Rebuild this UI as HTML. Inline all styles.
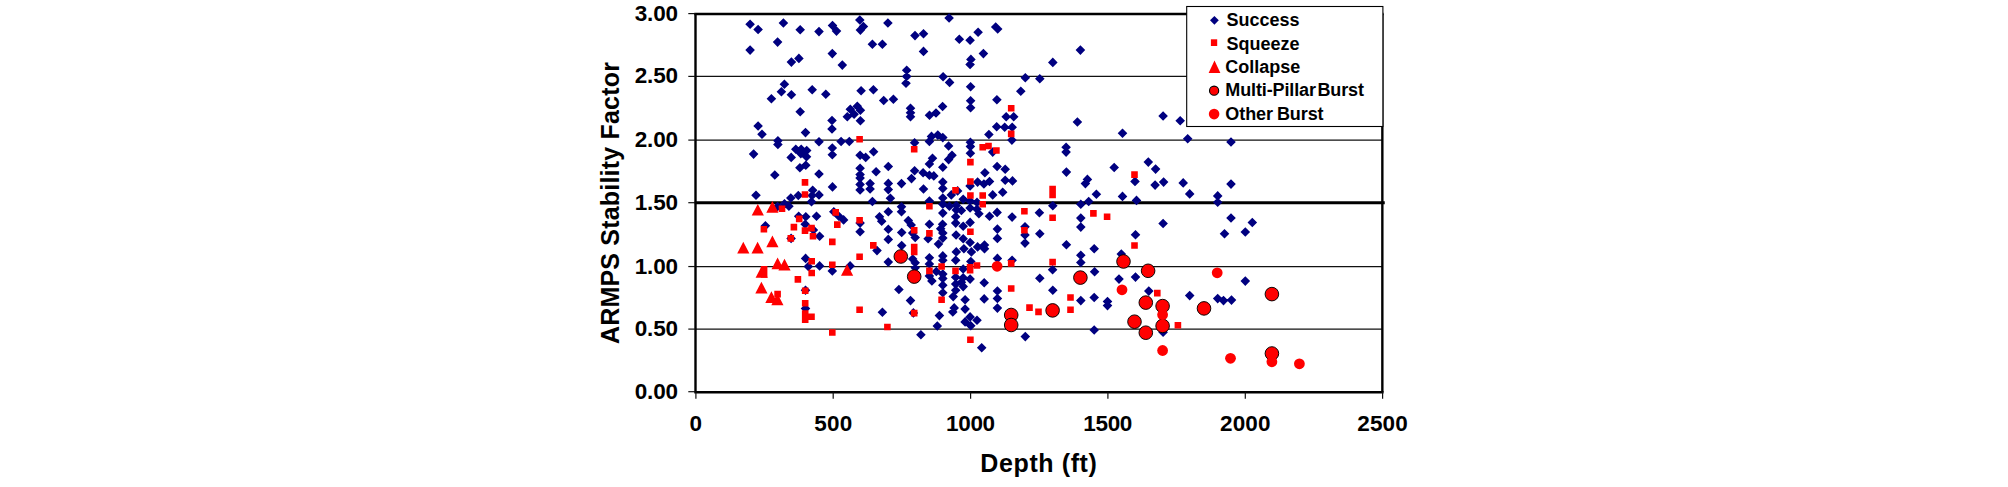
<!DOCTYPE html>
<html><head><meta charset="utf-8"><title>ARMPS Stability Factor vs Depth</title>
<style>
html,body{margin:0;padding:0;background:#fff;}
body{width:2008px;height:487px;overflow:hidden;}
svg{display:block;}
text{font-family:"Liberation Sans",Arial,sans-serif;font-weight:bold;fill:#000;}
.tick{font-size:22.5px;}
.leg{font-size:18px;}
.ttl{font-size:25px;}
</style></head><body>
<svg width="2008" height="487" viewBox="0 0 2008 487">
<rect x="0" y="0" width="2008" height="487" fill="#fff"/>
<g stroke="#111" stroke-width="1.15">
<line x1="695.5" y1="329.1" x2="1382.35" y2="329.1"/>
<line x1="695.5" y1="266.55" x2="1382.35" y2="266.55"/>
<line x1="695.5" y1="140.1" x2="1382.35" y2="140.1"/>
<line x1="695.5" y1="76.4" x2="1382.35" y2="76.4"/>
</g>
<g stroke="#000" stroke-width="2.4" fill="none">
<line x1="694.3" y1="14.0" x2="1383.55" y2="14.0"/>
<line x1="1382.35" y1="14.0" x2="1382.35" y2="392.25"/>
<line x1="695.5" y1="14.0" x2="695.5" y2="392.25"/>
<line x1="694.3" y1="392.25" x2="1383.55" y2="392.25"/>
</g>
<g stroke="#111" stroke-width="1.2">
<line x1="688.3" y1="391.7" x2="695.5" y2="391.7"/>
<line x1="688.3" y1="329.1" x2="695.5" y2="329.1"/>
<line x1="688.3" y1="266.55" x2="695.5" y2="266.55"/>
<line x1="688.3" y1="202.7" x2="695.5" y2="202.7"/>
<line x1="688.3" y1="140.1" x2="695.5" y2="140.1"/>
<line x1="688.3" y1="76.4" x2="695.5" y2="76.4"/>
<line x1="688.3" y1="13.6" x2="695.5" y2="13.6"/>
<line x1="695.9" y1="392.25" x2="695.9" y2="398.8"/>
<line x1="833.2" y1="392.25" x2="833.2" y2="398.8"/>
<line x1="970.6" y1="392.25" x2="970.6" y2="398.8"/>
<line x1="1107.9" y1="392.25" x2="1107.9" y2="398.8"/>
<line x1="1245.3" y1="392.25" x2="1245.3" y2="398.8"/>
<line x1="1382.6" y1="392.25" x2="1382.6" y2="398.8"/>
</g>
<line x1="694.7" y1="202.7" x2="1384.75" y2="202.7" stroke="#000" stroke-width="3.1"/>
<path d="M750.1 19.5L754.9 24.3L750.1 29.1L745.3 24.3ZM758.1 24.7L762.9 29.5L758.1 34.3L753.3 29.5ZM783.4 18.2L788.2 23.0L783.4 27.8L778.6 23.0ZM800.2 25.0L805.0 29.8L800.2 34.6L795.4 29.8ZM819.0 26.8L823.8 31.6L819.0 36.4L814.2 31.6ZM832.5 20.7L837.3 25.5L832.5 30.3L827.7 25.5ZM836.5 26.3L841.3 31.1L836.5 35.9L831.7 31.1ZM859.8 15.2L864.6 20.0L859.8 24.8L855.0 20.0ZM863.4 21.7L868.2 26.5L863.4 31.3L858.6 26.5ZM860.4 25.3L865.2 30.1L860.4 34.9L855.6 30.1ZM887.9 18.2L892.7 23.0L887.9 27.8L883.1 23.0ZM915.0 30.8L919.8 35.6L915.0 40.4L910.2 35.6ZM777.6 37.3L782.4 42.1L777.6 46.9L772.8 42.1ZM750.1 45.3L754.9 50.1L750.1 54.9L745.3 50.1ZM872.4 39.5L877.2 44.3L872.4 49.1L867.6 44.3ZM882.4 39.5L887.2 44.3L882.4 49.1L877.6 44.3ZM832.3 48.8L837.1 53.6L832.3 58.4L827.5 53.6ZM798.9 53.6L803.7 58.4L798.9 63.2L794.1 58.4ZM791.4 57.3L796.2 62.1L791.4 66.9L786.6 62.1ZM842.3 60.3L847.1 65.1L842.3 69.9L837.5 65.1ZM906.7 65.4L911.5 70.2L906.7 75.0L901.9 70.2ZM906.7 71.6L911.5 76.4L906.7 81.2L901.9 76.4ZM906.0 78.4L910.8 83.2L906.0 88.0L901.2 83.2ZM784.4 79.4L789.2 84.2L784.4 89.0L779.6 84.2ZM781.4 86.9L786.2 91.7L781.4 96.5L776.6 91.7ZM791.4 89.9L796.2 94.7L791.4 99.5L786.6 94.7ZM771.4 93.9L776.2 98.7L771.4 103.5L766.6 98.7ZM812.2 84.9L817.0 89.7L812.2 94.5L807.4 89.7ZM825.8 89.4L830.6 94.2L825.8 99.0L821.0 94.2ZM861.1 85.9L865.9 90.7L861.1 95.5L856.3 90.7ZM873.4 84.9L878.2 89.7L873.4 94.5L868.6 89.7ZM883.7 95.7L888.5 100.5L883.7 105.3L878.9 100.5ZM893.4 94.4L898.2 99.2L893.4 104.0L888.6 99.2ZM800.2 107.0L805.0 111.8L800.2 116.6L795.4 111.8ZM850.3 104.4L855.1 109.2L850.3 114.0L845.5 109.2ZM857.3 101.4L862.1 106.2L857.3 111.0L852.5 106.2ZM860.4 105.5L865.2 110.3L860.4 115.1L855.6 110.3ZM847.3 112.0L852.1 116.8L847.3 121.6L842.5 116.8ZM854.1 109.5L858.9 114.3L854.1 119.1L849.3 114.3ZM860.4 116.0L865.2 120.8L860.4 125.6L855.6 120.8ZM832.0 115.7L836.8 120.5L832.0 125.3L827.2 120.5ZM832.0 124.2L836.8 129.0L832.0 133.8L827.2 129.0ZM910.5 103.4L915.3 108.2L910.5 113.0L905.7 108.2ZM910.5 108.0L915.3 112.8L910.5 117.6L905.7 112.8ZM910.5 112.0L915.3 116.8L910.5 121.6L905.7 116.8ZM758.1 121.2L762.9 126.0L758.1 130.8L753.3 126.0ZM949.1 13.2L953.9 18.0L949.1 22.8L944.3 18.0ZM923.5 29.0L928.3 33.8L923.5 38.6L918.7 33.8ZM923.5 46.6L928.3 51.4L923.5 56.2L918.7 51.4ZM959.3 34.5L964.1 39.3L959.3 44.1L954.5 39.3ZM970.1 35.5L974.9 40.3L970.1 45.1L965.3 40.3ZM978.1 27.5L982.9 32.3L978.1 37.1L973.3 32.3ZM995.7 22.2L1000.5 27.0L995.7 31.8L990.9 27.0ZM997.7 24.2L1002.5 29.0L997.7 33.8L992.9 29.0ZM983.4 48.8L988.2 53.6L983.4 58.4L978.6 53.6ZM970.9 54.6L975.7 59.4L970.9 64.2L966.1 59.4ZM970.1 59.6L974.9 64.4L970.1 69.2L965.3 64.4ZM1080.4 45.3L1085.2 50.1L1080.4 54.9L1075.6 50.1ZM1052.8 57.6L1057.6 62.4L1052.8 67.2L1048.0 62.4ZM943.1 71.9L947.9 76.7L943.1 81.5L938.3 76.7ZM949.6 77.6L954.4 82.4L949.6 87.2L944.8 82.4ZM970.6 81.9L975.4 86.7L970.6 91.5L965.8 86.7ZM1025.3 72.9L1030.1 77.7L1025.3 82.5L1020.5 77.7ZM1039.8 73.9L1044.6 78.7L1039.8 83.5L1035.0 78.7ZM1020.8 86.4L1025.6 91.2L1020.8 96.0L1016.0 91.2ZM996.9 94.9L1001.7 99.7L996.9 104.5L992.1 99.7ZM970.6 95.9L975.4 100.7L970.6 105.5L965.8 100.7ZM970.6 102.9L975.4 107.7L970.6 112.5L965.8 107.7ZM942.6 101.7L947.4 106.5L942.6 111.3L937.8 106.5ZM936.0 108.2L940.8 113.0L936.0 117.8L931.2 113.0ZM929.5 110.5L934.3 115.3L929.5 120.1L924.7 115.3ZM1006.2 112.0L1011.0 116.8L1006.2 121.6L1001.4 116.8ZM1013.7 112.0L1018.5 116.8L1013.7 121.6L1008.9 116.8ZM996.7 122.0L1001.5 126.8L996.7 131.6L991.9 126.8ZM1004.7 122.5L1009.5 127.3L1004.7 132.1L999.9 127.3ZM1012.2 122.5L1017.0 127.3L1012.2 132.1L1007.4 127.3ZM1077.4 117.2L1082.2 122.0L1077.4 126.8L1072.6 122.0ZM1163.1 111.2L1167.9 116.0L1163.1 120.8L1158.3 116.0ZM1180.2 116.0L1185.0 120.8L1180.2 125.6L1175.4 120.8ZM762.0 129.5L766.8 134.3L762.0 139.1L757.2 134.3ZM777.9 136.0L782.7 140.8L777.9 145.6L773.1 140.8ZM777.9 139.7L782.7 144.5L777.9 149.3L773.1 144.5ZM753.6 149.3L758.4 154.1L753.6 158.9L748.8 154.1ZM795.8 144.5L800.6 149.3L795.8 154.1L791.0 149.3ZM801.2 144.5L806.0 149.3L801.2 154.1L796.4 149.3ZM806.7 145.7L811.5 150.5L806.7 155.3L801.9 150.5ZM800.8 148.8L805.6 153.6L800.8 158.4L796.0 153.6ZM806.5 152.0L811.3 156.8L806.5 161.6L801.7 156.8ZM791.2 152.6L796.0 157.4L791.2 162.2L786.4 157.4ZM805.8 160.4L810.6 165.2L805.8 170.0L801.0 165.2ZM799.9 162.9L804.7 167.7L799.9 172.5L795.1 167.7ZM774.8 170.2L779.6 175.0L774.8 179.8L770.0 175.0ZM819.0 137.0L823.8 141.8L819.0 146.6L814.2 141.8ZM819.0 169.2L823.8 174.0L819.0 178.8L814.2 174.0ZM805.5 127.8L810.3 132.6L805.5 137.4L800.7 132.6ZM812.7 185.5L817.5 190.3L812.7 195.1L807.9 190.3ZM841.1 136.7L845.9 141.5L841.1 146.3L836.3 141.5ZM849.3 136.7L854.1 141.5L849.3 146.3L844.5 141.5ZM832.3 143.2L837.1 148.0L832.3 152.8L827.5 148.0ZM832.3 150.0L837.1 154.8L832.3 159.6L827.5 154.8ZM860.1 150.4L864.9 155.2L860.1 160.0L855.3 155.2ZM865.7 152.6L870.5 157.4L865.7 162.2L860.9 157.4ZM873.6 147.0L878.4 151.8L873.6 156.6L868.8 151.8ZM914.6 137.9L919.4 142.7L914.6 147.5L909.8 142.7ZM860.1 163.5L864.9 168.3L860.1 173.1L855.3 168.3ZM860.1 169.8L864.9 174.6L860.1 179.4L855.3 174.6ZM860.1 173.3L864.9 178.1L860.1 182.9L855.3 178.1ZM860.1 179.6L864.9 184.4L860.1 189.2L855.3 184.4ZM860.1 185.1L864.9 189.9L860.1 194.7L855.3 189.9ZM888.3 161.7L893.1 166.5L888.3 171.3L883.5 166.5ZM876.1 167.0L880.9 171.8L876.1 176.6L871.3 171.8ZM914.6 166.0L919.4 170.8L914.6 175.6L909.8 170.8ZM911.5 173.8L916.3 178.6L911.5 183.4L906.7 178.6ZM870.1 178.8L874.9 183.6L870.1 188.4L865.3 183.6ZM870.1 184.2L874.9 189.0L870.1 193.8L865.3 189.0ZM888.3 178.6L893.1 183.4L888.3 188.2L883.5 183.4ZM888.3 184.8L893.1 189.6L888.3 194.4L883.5 189.6ZM901.5 178.8L906.3 183.6L901.5 188.4L896.7 183.6ZM832.5 182.1L837.3 186.9L832.5 191.7L827.7 186.9ZM931.5 131.6L936.3 136.4L931.5 141.2L926.7 136.4ZM937.8 130.3L942.6 135.1L937.8 139.9L933.0 135.1ZM942.8 132.8L947.6 137.6L942.8 142.4L938.0 137.6ZM929.4 136.6L934.2 141.4L929.4 146.2L924.6 141.4ZM948.6 141.2L953.4 146.0L948.6 150.8L943.8 146.0ZM970.4 137.5L975.2 142.3L970.4 147.1L965.6 142.3ZM970.4 141.6L975.2 146.4L970.4 151.2L965.6 146.4ZM970.4 148.5L975.2 153.3L970.4 158.1L965.6 153.3ZM952.0 150.4L956.8 155.2L952.0 160.0L947.2 155.2ZM948.6 154.8L953.4 159.6L948.6 164.4L943.8 159.6ZM932.5 153.5L937.3 158.3L932.5 163.1L927.7 158.3ZM929.4 159.2L934.2 164.0L929.4 168.8L924.6 164.0ZM942.8 162.5L947.6 167.3L942.8 172.1L938.0 167.3ZM923.1 167.9L927.9 172.7L923.1 177.5L918.3 172.7ZM929.4 170.4L934.2 175.2L929.4 180.0L924.6 175.2ZM933.8 171.1L938.6 175.9L933.8 180.7L929.0 175.9ZM942.8 177.3L947.6 182.1L942.8 186.9L938.0 182.1ZM942.8 183.6L947.6 188.4L942.8 193.2L938.0 188.4ZM923.5 184.2L928.3 189.0L923.5 193.8L918.7 189.0ZM988.9 129.7L993.7 134.5L988.9 139.3L984.1 134.5ZM1011.9 135.3L1016.7 140.1L1011.9 144.9L1007.1 140.1ZM992.7 147.3L997.5 152.1L992.7 156.9L987.9 152.1ZM997.1 161.7L1001.9 166.5L997.1 171.3L992.3 166.5ZM1005.2 164.5L1010.0 169.3L1005.2 174.1L1000.4 169.3ZM984.9 167.9L989.7 172.7L984.9 177.5L980.1 172.7ZM977.6 177.3L982.4 182.1L977.6 186.9L972.8 182.1ZM983.9 179.2L988.7 184.0L983.9 188.8L979.1 184.0ZM989.5 176.7L994.3 181.5L989.5 186.3L984.7 181.5ZM970.1 181.1L974.9 185.9L970.1 190.7L965.3 185.9ZM1005.2 175.4L1010.0 180.2L1005.2 185.0L1000.4 180.2ZM1012.5 176.1L1017.3 180.9L1012.5 185.7L1007.7 180.9ZM1002.7 187.4L1007.5 192.2L1002.7 197.0L997.9 192.2ZM957.6 186.1L962.4 190.9L957.6 195.7L952.8 190.9ZM1066.1 142.5L1070.9 147.3L1066.1 152.1L1061.3 147.3ZM1066.1 147.3L1070.9 152.1L1066.1 156.9L1061.3 152.1ZM1066.4 167.3L1071.2 172.1L1066.4 176.9L1061.6 172.1ZM1114.2 162.7L1119.0 167.5L1114.2 172.3L1109.4 167.5ZM1087.4 174.6L1092.2 179.4L1087.4 184.2L1082.6 179.4ZM1085.4 178.8L1090.2 183.6L1085.4 188.4L1080.6 183.6ZM1122.5 128.5L1127.3 133.3L1122.5 138.1L1117.7 133.3ZM1187.7 134.0L1192.5 138.8L1187.7 143.6L1182.9 138.8ZM1231.0 137.2L1235.8 142.0L1231.0 146.8L1226.2 142.0ZM1148.3 157.3L1153.1 162.1L1148.3 166.9L1143.5 162.1ZM1155.6 164.3L1160.4 169.1L1155.6 173.9L1150.8 169.1ZM1135.0 176.6L1139.8 181.4L1135.0 186.2L1130.2 181.4ZM1155.1 180.3L1159.9 185.1L1155.1 189.9L1150.3 185.1ZM1163.6 177.3L1168.4 182.1L1163.6 186.9L1158.8 182.1ZM1183.2 178.1L1188.0 182.9L1183.2 187.7L1178.4 182.9ZM1231.0 179.3L1235.8 184.1L1231.0 188.9L1226.2 184.1ZM1189.7 189.1L1194.5 193.9L1189.7 198.7L1184.9 193.9ZM1122.5 191.6L1127.3 196.4L1122.5 201.2L1117.7 196.4ZM1217.7 191.1L1222.5 195.9L1217.7 200.7L1212.9 195.9ZM1217.7 197.4L1222.5 202.2L1217.7 207.0L1212.9 202.2ZM1136.5 195.6L1141.3 200.4L1136.5 205.2L1131.7 200.4ZM1163.1 218.7L1167.9 223.5L1163.1 228.3L1158.3 223.5ZM1231.0 213.2L1235.8 218.0L1231.0 222.8L1226.2 218.0ZM1252.3 217.7L1257.1 222.5L1252.3 227.3L1247.5 222.5ZM1245.3 227.2L1250.1 232.0L1245.3 236.8L1240.5 232.0ZM1224.5 229.0L1229.3 233.8L1224.5 238.6L1219.7 233.8ZM1135.5 230.0L1140.3 234.8L1135.5 239.6L1130.7 234.8ZM1121.3 249.3L1126.1 254.1L1121.3 258.9L1116.5 254.1ZM756.0 190.5L760.8 195.3L756.0 200.1L751.2 195.3ZM790.8 193.2L795.6 198.0L790.8 202.8L786.0 198.0ZM798.3 190.7L803.1 195.5L798.3 200.3L793.5 195.5ZM784.5 198.9L789.3 203.7L784.5 208.5L779.7 203.7ZM788.9 201.4L793.7 206.2L788.9 211.0L784.1 206.2ZM777.6 201.7L782.4 206.5L777.6 211.3L772.8 206.5ZM812.1 190.7L816.9 195.5L812.1 200.3L807.3 195.5ZM811.5 197.0L816.3 201.8L811.5 206.6L806.7 201.8ZM819.0 190.1L823.8 194.9L819.0 199.7L814.2 194.9ZM798.7 211.4L803.5 216.2L798.7 221.0L793.9 216.2ZM805.8 212.0L810.6 216.8L805.8 221.6L801.0 216.8ZM816.5 211.4L821.3 216.2L816.5 221.0L811.7 216.2ZM765.4 221.0L770.2 225.8L765.4 230.6L760.6 225.8ZM805.2 219.5L810.0 224.3L805.2 229.1L800.4 224.3ZM813.4 225.2L818.2 230.0L813.4 234.8L808.6 230.0ZM791.1 233.6L795.9 238.4L791.1 243.2L786.3 238.4ZM819.6 231.4L824.4 236.2L819.6 241.0L814.8 236.2ZM872.4 196.7L877.2 201.5L872.4 206.3L867.6 201.5ZM890.4 193.5L895.2 198.3L890.4 203.1L885.6 198.3ZM833.8 207.0L838.6 211.8L833.8 216.6L829.0 211.8ZM838.8 211.4L843.6 216.2L838.8 221.0L834.0 216.2ZM843.6 215.1L848.4 219.9L843.6 224.7L838.8 219.9ZM860.1 218.3L864.9 223.1L860.1 227.9L855.3 223.1ZM860.1 227.0L864.9 231.8L860.1 236.6L855.3 231.8ZM879.5 212.0L884.3 216.8L879.5 221.6L874.7 216.8ZM881.7 216.4L886.5 221.2L881.7 226.0L876.9 221.2ZM888.3 207.0L893.1 211.8L888.3 216.6L883.5 211.8ZM901.5 202.0L906.3 206.8L901.5 211.6L896.7 206.8ZM901.5 207.0L906.3 211.8L901.5 216.6L896.7 211.8ZM888.3 224.5L893.1 229.3L888.3 234.1L883.5 229.3ZM888.3 234.6L893.1 239.4L888.3 244.2L883.5 239.4ZM901.7 227.7L906.5 232.5L901.7 237.3L896.9 232.5ZM901.7 240.8L906.5 245.6L901.7 250.4L896.9 245.6ZM908.3 215.8L913.1 220.6L908.3 225.4L903.5 220.6ZM911.2 220.2L916.0 225.0L911.2 229.8L906.4 225.0ZM912.7 228.3L917.5 233.1L912.7 237.9L907.9 233.1ZM915.2 232.7L920.0 237.5L915.2 242.3L910.4 237.5ZM877.0 245.8L881.8 250.6L877.0 255.4L872.2 250.6ZM929.4 196.3L934.2 201.1L929.4 205.9L924.6 201.1ZM942.8 193.2L947.6 198.0L942.8 202.8L938.0 198.0ZM942.8 199.5L947.6 204.3L942.8 209.1L938.0 204.3ZM949.4 201.4L954.2 206.2L949.4 211.0L944.6 206.2ZM951.3 190.1L956.1 194.9L951.3 199.7L946.5 194.9ZM963.2 194.5L968.0 199.3L963.2 204.1L958.4 199.3ZM956.3 200.7L961.1 205.5L956.3 210.3L951.5 205.5ZM956.3 205.1L961.1 209.9L956.3 214.7L951.5 209.9ZM961.4 205.7L966.2 210.5L961.4 215.3L956.6 210.5ZM970.1 196.3L974.9 201.1L970.1 205.9L965.3 201.1ZM970.1 203.2L974.9 208.0L970.1 212.8L965.3 208.0ZM977.0 197.6L981.8 202.4L977.0 207.2L972.2 202.4ZM977.0 204.5L981.8 209.3L977.0 214.1L972.2 209.3ZM978.9 208.9L983.7 213.7L978.9 218.5L974.1 213.7ZM942.8 208.3L947.6 213.1L942.8 217.9L938.0 213.1ZM955.7 212.0L960.5 216.8L955.7 221.6L950.9 216.8ZM955.7 218.3L960.5 223.1L955.7 227.9L950.9 223.1ZM970.1 217.6L974.9 222.4L970.1 227.2L965.3 222.4ZM963.2 221.4L968.0 226.2L963.2 231.0L958.4 226.2ZM929.4 219.5L934.2 224.3L929.4 229.1L924.6 224.3ZM942.6 219.5L947.4 224.3L942.6 229.1L937.8 224.3ZM940.7 223.9L945.5 228.7L940.7 233.5L935.9 228.7ZM942.8 228.3L947.6 233.1L942.8 237.9L938.0 233.1ZM942.8 233.3L947.6 238.1L942.8 242.9L938.0 238.1ZM928.1 233.9L932.9 238.7L928.1 243.5L923.3 238.7ZM938.5 239.3L943.3 244.1L938.5 248.9L933.7 244.1ZM956.1 230.2L960.9 235.0L956.1 239.8L951.3 235.0ZM963.2 233.9L968.0 238.7L963.2 243.5L958.4 238.7ZM970.1 237.7L974.9 242.5L970.1 247.3L965.3 242.5ZM977.6 242.1L982.4 246.9L977.6 251.7L972.8 246.9ZM984.5 240.2L989.3 245.0L984.5 249.8L979.7 245.0ZM984.5 244.0L989.3 248.8L984.5 253.6L979.7 248.8ZM963.9 244.0L968.7 248.8L963.9 253.6L959.1 248.8ZM971.4 247.1L976.2 251.9L971.4 256.7L966.6 251.9ZM956.3 247.1L961.1 251.9L956.3 256.7L951.5 251.9ZM989.5 211.4L994.3 216.2L989.5 221.0L984.7 216.2ZM997.1 207.6L1001.9 212.4L997.1 217.2L992.3 212.4ZM1012.1 212.3L1016.9 217.1L1012.1 221.9L1007.3 217.1ZM997.4 224.3L1002.2 229.1L997.4 233.9L992.6 229.1ZM997.4 233.6L1002.2 238.4L997.4 243.2L992.6 238.4ZM992.7 190.1L997.5 194.9L992.7 199.7L987.9 194.9ZM1052.8 201.0L1057.6 205.8L1052.8 210.6L1048.0 205.8ZM1039.4 207.9L1044.2 212.7L1039.4 217.5L1034.6 212.7ZM1080.8 199.5L1085.6 204.3L1080.8 209.1L1076.0 204.3ZM1088.7 196.7L1093.5 201.5L1088.7 206.3L1083.9 201.5ZM1096.4 189.5L1101.2 194.3L1096.4 199.1L1091.6 194.3ZM1080.8 213.3L1085.6 218.1L1080.8 222.9L1076.0 218.1ZM1080.8 222.3L1085.6 227.1L1080.8 231.9L1076.0 227.1ZM1025.0 222.0L1029.8 226.8L1025.0 231.6L1020.2 226.8ZM1025.0 230.2L1029.8 235.0L1025.0 239.8L1020.2 235.0ZM1025.0 238.3L1029.8 243.1L1025.0 247.9L1020.2 243.1ZM1039.8 228.9L1044.6 233.7L1039.8 238.5L1035.0 233.7ZM1066.4 240.0L1071.2 244.8L1066.4 249.6L1061.6 244.8ZM1094.2 244.0L1099.0 248.8L1094.2 253.6L1089.4 248.8ZM805.6 253.6L810.4 258.4L805.6 263.2L800.8 258.4ZM808.3 261.7L813.1 266.5L808.3 271.3L803.5 266.5ZM819.6 261.1L824.4 265.9L819.6 270.7L814.8 265.9ZM805.5 285.5L810.3 290.3L805.5 295.1L800.7 290.3ZM805.5 303.7L810.3 308.5L805.5 313.3L800.7 308.5ZM832.3 266.1L837.1 270.9L832.3 275.7L827.5 270.9ZM850.1 261.1L854.9 265.9L850.1 270.7L845.3 265.9ZM888.3 257.3L893.1 262.1L888.3 266.9L883.5 262.1ZM912.7 254.2L917.5 259.0L912.7 263.8L907.9 259.0ZM915.2 258.0L920.0 262.8L915.2 267.6L910.4 262.8ZM915.2 263.0L920.0 267.8L915.2 272.6L910.4 267.8ZM898.9 284.7L903.7 289.5L898.9 294.3L894.1 289.5ZM910.5 295.8L915.3 300.6L910.5 305.4L905.7 300.6ZM882.4 307.5L887.2 312.3L882.4 317.1L877.6 312.3ZM913.4 308.1L918.2 312.9L913.4 317.7L908.6 312.9ZM929.4 253.0L934.2 257.8L929.4 262.6L924.6 257.8ZM929.4 259.2L934.2 264.0L929.4 268.8L924.6 264.0ZM929.4 271.1L934.2 275.9L929.4 280.7L924.6 275.9ZM931.9 276.1L936.7 280.9L931.9 285.7L927.1 280.9ZM942.8 251.1L947.6 255.9L942.8 260.7L938.0 255.9ZM942.8 255.5L947.6 260.3L942.8 265.1L938.0 260.3ZM936.3 266.7L941.1 271.5L936.3 276.3L931.5 271.5ZM942.8 269.3L947.6 274.1L942.8 278.9L938.0 274.1ZM942.8 273.6L947.6 278.4L942.8 283.2L938.0 278.4ZM942.8 280.5L947.6 285.3L942.8 290.1L938.0 285.3ZM942.8 288.0L947.6 292.8L942.8 297.6L938.0 292.8ZM955.7 255.5L960.5 260.3L955.7 265.1L950.9 260.3ZM955.7 272.4L960.5 277.2L955.7 282.0L950.9 277.2ZM955.7 279.3L960.5 284.1L955.7 288.9L950.9 284.1ZM955.7 285.5L960.5 290.3L955.7 295.1L950.9 290.3ZM953.2 291.8L958.0 296.6L953.2 301.4L948.4 296.6ZM954.2 303.1L959.0 307.9L954.2 312.7L949.4 307.9ZM952.8 307.1L957.6 311.9L952.8 316.7L948.0 311.9ZM963.2 264.2L968.0 269.0L963.2 273.8L958.4 269.0ZM963.2 273.0L968.0 277.8L963.2 282.6L958.4 277.8ZM963.2 281.8L968.0 286.6L963.2 291.4L958.4 286.6ZM961.4 277.4L966.2 282.2L961.4 287.0L956.6 282.2ZM970.1 274.3L974.9 279.1L970.1 283.9L965.3 279.1ZM970.8 256.7L975.6 261.5L970.8 266.3L966.0 261.5ZM965.1 294.9L969.9 299.7L965.1 304.5L960.3 299.7ZM965.1 304.3L969.9 309.1L965.1 313.9L960.3 309.1ZM984.2 278.0L989.0 282.8L984.2 287.6L979.4 282.8ZM984.2 294.1L989.0 298.9L984.2 303.7L979.4 298.9ZM997.4 253.6L1002.2 258.4L997.4 263.2L992.6 258.4ZM997.4 286.2L1002.2 291.0L997.4 295.8L992.6 291.0ZM997.4 293.7L1002.2 298.5L997.4 303.3L992.6 298.5ZM997.4 303.3L1002.2 308.1L997.4 312.9L992.6 308.1ZM1012.1 255.5L1016.9 260.3L1012.1 265.1L1007.3 260.3ZM1080.8 250.5L1085.6 255.3L1080.8 260.1L1076.0 255.3ZM1080.8 257.7L1085.6 262.5L1080.8 267.3L1076.0 262.5ZM1052.6 264.9L1057.4 269.7L1052.6 274.5L1047.8 269.7ZM1039.8 273.4L1044.6 278.2L1039.8 283.0L1035.0 278.2ZM1052.8 285.5L1057.6 290.3L1052.8 295.1L1048.0 290.3ZM1094.6 267.0L1099.4 271.8L1094.6 276.6L1089.8 271.8ZM1094.2 292.7L1099.0 297.5L1094.2 302.3L1089.4 297.5ZM1080.8 295.8L1085.6 300.6L1080.8 305.4L1076.0 300.6ZM1107.5 296.8L1112.3 301.6L1107.5 306.4L1102.7 301.6ZM1107.5 300.8L1112.3 305.6L1107.5 310.4L1102.7 305.6ZM1119.0 274.3L1123.8 279.1L1119.0 283.9L1114.2 279.1ZM1135.5 272.3L1140.3 277.1L1135.5 281.9L1130.7 277.1ZM1148.8 286.3L1153.6 291.1L1148.8 295.9L1144.0 291.1ZM1189.7 290.8L1194.5 295.6L1189.7 300.4L1184.9 295.6ZM1217.7 293.8L1222.5 298.6L1217.7 303.4L1212.9 298.6ZM1223.5 295.8L1228.3 300.6L1223.5 305.4L1218.7 300.6ZM1231.5 295.3L1236.3 300.1L1231.5 304.9L1226.7 300.1ZM1245.3 276.3L1250.1 281.1L1245.3 285.9L1240.5 281.1ZM1163.1 327.4L1167.9 332.2L1163.1 337.0L1158.3 332.2ZM939.4 310.8L944.2 315.6L939.4 320.4L934.6 315.6ZM937.3 321.2L942.1 326.0L937.3 330.8L932.5 326.0ZM920.9 330.0L925.7 334.8L920.9 339.6L916.1 334.8ZM965.1 317.1L969.9 321.9L965.1 326.7L960.3 321.9ZM970.1 312.1L974.9 316.9L970.1 321.7L965.3 316.9ZM970.8 320.9L975.6 325.7L970.8 330.5L966.0 325.7ZM977.0 315.5L981.8 320.3L977.0 325.1L972.2 320.3ZM981.7 343.0L986.5 347.8L981.7 352.6L976.9 347.8ZM1025.3 331.8L1030.1 336.6L1025.3 341.4L1020.5 336.6ZM1094.2 325.2L1099.0 330.0L1094.2 334.8L1089.4 330.0Z" fill="#000080"/>
<path d="M1007.9 104.9h6.6v6.6h-6.6ZM801.7 179.1h6.6v6.6h-6.6ZM856.3 136.0h6.6v6.6h-6.6ZM910.9 146.0h6.6v6.6h-6.6ZM1007.9 130.6h6.6v6.6h-6.6ZM979.4 144.0h6.6v6.6h-6.6ZM985.2 142.7h6.6v6.6h-6.6ZM993.1 147.2h6.6v6.6h-6.6ZM967.1 158.8h6.6v6.6h-6.6ZM967.1 178.2h6.6v6.6h-6.6ZM952.2 187.0h6.6v6.6h-6.6ZM1049.3 185.7h6.6v6.6h-6.6ZM1131.2 171.3h6.6v6.6h-6.6ZM1131.2 242.2h6.6v6.6h-6.6ZM801.7 191.2h6.6v6.6h-6.6ZM778.7 205.4h6.6v6.6h-6.6ZM795.9 215.6h6.6v6.6h-6.6ZM760.6 226.0h6.6v6.6h-6.6ZM790.6 223.8h6.6v6.6h-6.6ZM801.7 227.3h6.6v6.6h-6.6ZM808.2 224.8h6.6v6.6h-6.6ZM809.7 232.9h6.6v6.6h-6.6ZM787.5 235.1h6.6v6.6h-6.6ZM832.4 209.1h6.6v6.6h-6.6ZM834.0 221.3h6.6v6.6h-6.6ZM829.0 238.6h6.6v6.6h-6.6ZM856.3 217.0h6.6v6.6h-6.6ZM870.0 242.1h6.6v6.6h-6.6ZM910.9 227.0h6.6v6.6h-6.6ZM910.9 243.8h6.6v6.6h-6.6ZM910.9 248.6h6.6v6.6h-6.6ZM926.1 202.9h6.6v6.6h-6.6ZM967.1 192.2h6.6v6.6h-6.6ZM979.4 192.2h6.6v6.6h-6.6ZM979.4 201.0h6.6v6.6h-6.6ZM926.1 230.1h6.6v6.6h-6.6ZM967.1 228.5h6.6v6.6h-6.6ZM1049.3 191.6h6.6v6.6h-6.6ZM1021.1 207.9h6.6v6.6h-6.6ZM1049.3 214.5h6.6v6.6h-6.6ZM1090.1 210.1h6.6v6.6h-6.6ZM1103.8 213.5h6.6v6.6h-6.6ZM1021.1 227.0h6.6v6.6h-6.6ZM808.4 258.0h6.6v6.6h-6.6ZM808.4 269.7h6.6v6.6h-6.6ZM794.6 276.1h6.6v6.6h-6.6ZM801.9 287.4h6.6v6.6h-6.6ZM801.9 299.9h6.6v6.6h-6.6ZM801.9 310.2h6.6v6.6h-6.6ZM760.8 266.0h6.6v6.6h-6.6ZM760.8 271.1h6.6v6.6h-6.6ZM774.3 290.8h6.6v6.6h-6.6ZM829.0 261.4h6.6v6.6h-6.6ZM856.3 253.5h6.6v6.6h-6.6ZM856.3 306.5h6.6v6.6h-6.6ZM910.9 309.8h6.6v6.6h-6.6ZM938.3 263.2h6.6v6.6h-6.6ZM926.1 267.6h6.6v6.6h-6.6ZM952.2 267.6h6.6v6.6h-6.6ZM966.8 263.9h6.6v6.6h-6.6ZM966.8 267.0h6.6v6.6h-6.6ZM973.7 262.2h6.6v6.6h-6.6ZM1007.9 260.1h6.6v6.6h-6.6ZM1007.9 285.2h6.6v6.6h-6.6ZM938.3 296.4h6.6v6.6h-6.6ZM1049.3 258.8h6.6v6.6h-6.6ZM1067.2 294.2h6.6v6.6h-6.6ZM1067.2 306.5h6.6v6.6h-6.6ZM1026.2 304.3h6.6v6.6h-6.6ZM1035.2 308.6h6.6v6.6h-6.6ZM1154.0 289.8h6.6v6.6h-6.6ZM1174.6 321.9h6.6v6.6h-6.6ZM801.9 316.5h6.6v6.6h-6.6ZM808.2 313.5h6.6v6.6h-6.6ZM829.0 329.2h6.6v6.6h-6.6ZM884.1 323.7h6.6v6.6h-6.6ZM967.1 336.4h6.6v6.6h-6.6Z" fill="#ff0000"/>
<path d="M757.8 203.9L763.9 215.6L751.7 215.6ZM772.4 201.1L778.5 212.8L766.3 212.8ZM772.4 235.5L778.5 247.2L766.3 247.2ZM743.3 241.7L749.4 253.4L737.2 253.4ZM757.6 241.7L763.7 253.4L751.5 253.4ZM777.6 257.5L783.7 269.2L771.5 269.2ZM784.5 258.8L790.6 270.5L778.4 270.5ZM761.7 266.0L767.8 277.7L755.6 277.7ZM761.4 281.7L767.5 293.4L755.3 293.4ZM771.4 291.3L777.5 303.0L765.3 303.0ZM777.4 293.5L783.5 305.2L771.3 305.2ZM847.1 264.1L853.2 275.8L841.0 275.8Z" fill="#ff0000"/>
<g fill="#ff0000" stroke="#000" stroke-width="0.95">
<circle cx="900.8" cy="256.5" r="6.8"/>
<circle cx="914.2" cy="276.6" r="6.8"/>
<circle cx="1080.4" cy="277.6" r="6.8"/>
<circle cx="1052.6" cy="310.4" r="6.8"/>
<circle cx="1123.5" cy="261.5" r="6.8"/>
<circle cx="1148.1" cy="270.8" r="6.8"/>
<circle cx="1145.8" cy="302.6" r="6.8"/>
<circle cx="1162.6" cy="306.1" r="6.8"/>
<circle cx="1204.0" cy="308.4" r="6.8"/>
<circle cx="1134.5" cy="321.7" r="6.8"/>
<circle cx="1162.6" cy="325.9" r="6.8"/>
<circle cx="1145.8" cy="332.7" r="6.8"/>
<circle cx="1271.9" cy="294.1" r="6.8"/>
<circle cx="1271.9" cy="353.5" r="6.8"/>
<circle cx="1011.2" cy="315.0" r="6.8"/>
<circle cx="1011.2" cy="325.0" r="6.8"/>
</g>
<g fill="#ff0000">
<circle cx="997.1" cy="266.3" r="5.4"/>
<circle cx="1217.2" cy="272.8" r="5.4"/>
<circle cx="1122.0" cy="289.8" r="5.4"/>
<circle cx="1162.6" cy="314.7" r="5.4"/>
<circle cx="1162.6" cy="350.5" r="5.4"/>
<circle cx="1230.5" cy="358.3" r="5.4"/>
<circle cx="1271.9" cy="361.8" r="5.4"/>
<circle cx="1299.4" cy="363.8" r="5.4"/>
</g>
<rect x="1186.7" y="6.5" width="196.2" height="120" fill="#fff" stroke="#000" stroke-width="1.1"/>
<path d="M1214.4 15.9L1218.8 20.3L1214.4 24.7L1210.0 20.3Z" fill="#000080"/>
<rect x="1210.9" y="39.3" width="6.3" height="6.7" fill="#ff0000"/>
<path d="M1214.5 60.4L1220.4 73.1L1208.6 73.1Z" fill="#ff0000"/>
<circle cx="1214.1" cy="90.7" r="4.6" fill="#ff0000" stroke="#000" stroke-width="1.1"/>
<circle cx="1214.1" cy="114.1" r="5.3" fill="#ff0000"/>
<text class="leg" x="1226.5" y="26.2">Success</text>
<text class="leg" x="1226.5" y="50.2">Squeeze</text>
<text class="leg" x="1225.3" y="72.9">Collapse</text>
<text class="leg" x="1225.3" y="96.4" style="word-spacing:-3.3px;letter-spacing:-0.12px">Multi-Pillar Burst</text>
<text class="leg" x="1225.3" y="120.1" style="word-spacing:-0.9px;letter-spacing:-0.08px">Other Burst</text>
<text class="tick" x="678" y="398.7" text-anchor="end" textLength="43.2" lengthAdjust="spacing">0.00</text>
<text class="tick" x="678" y="336.1" text-anchor="end" textLength="43.2" lengthAdjust="spacing">0.50</text>
<text class="tick" x="678" y="273.6" text-anchor="end" textLength="43.2" lengthAdjust="spacing">1.00</text>
<text class="tick" x="678" y="209.7" text-anchor="end" textLength="43.2" lengthAdjust="spacing">1.50</text>
<text class="tick" x="678" y="147.1" text-anchor="end" textLength="43.2" lengthAdjust="spacing">2.00</text>
<text class="tick" x="678" y="83.4" text-anchor="end" textLength="43.2" lengthAdjust="spacing">2.50</text>
<text class="tick" x="678" y="20.6" text-anchor="end" textLength="43.2" lengthAdjust="spacing">3.00</text>
<text class="tick" x="696.0" y="431.4" text-anchor="middle" letter-spacing="0.3">0</text>
<text class="tick" x="833.4" y="431.4" text-anchor="middle" letter-spacing="0.3">500</text>
<text class="tick" x="970.4" y="431.4" text-anchor="middle" letter-spacing="-0.35">1000</text>
<text class="tick" x="1107.7" y="431.4" text-anchor="middle" letter-spacing="-0.35">1500</text>
<text class="tick" x="1245.3" y="431.4" text-anchor="middle" letter-spacing="0.1">2000</text>
<text class="tick" x="1382.6" y="431.4" text-anchor="middle" letter-spacing="0.1">2500</text>
<text class="ttl" x="1038.9" y="472.1" text-anchor="middle" letter-spacing="0.6">Depth (ft)</text>
<text class="ttl" transform="translate(619.4,203) rotate(-90)" text-anchor="middle" letter-spacing="0.2">ARMPS Stability Factor</text>
</svg></body></html>
